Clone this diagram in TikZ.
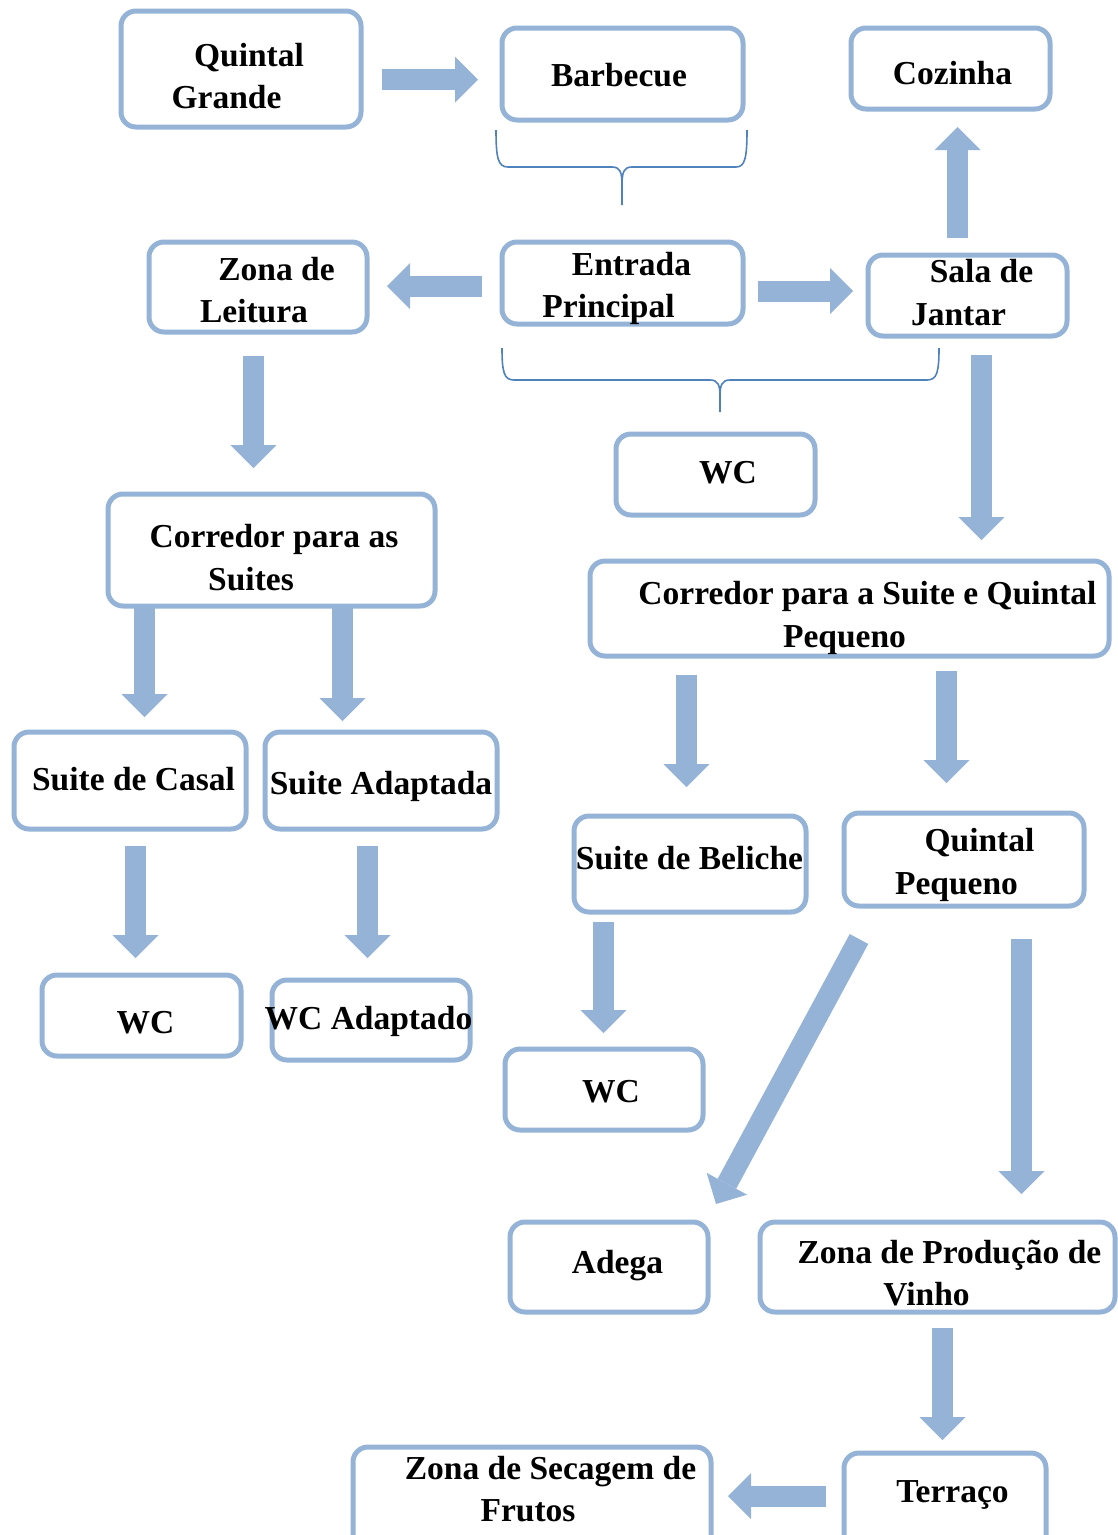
\documentclass[tikz,border=0pt]{standalone}
\usepackage{fontspec}
\setmainfont{Liberation Serif}
\usetikzlibrary{arrows.meta}
\definecolor{boxblue}{HTML}{95B3D7}
\definecolor{braceblue}{HTML}{4F81BD}
\tikzset{
  box/.style={draw=boxblue, line width=5pt, rounded corners=15pt, inner sep=0pt},
  lbl/.style={inner sep=0pt, anchor=base, font=\fontsize{33.5pt}{40pt}\selectfont\bfseries},
  barrow/.style={draw=boxblue, line width=21pt, -{Triangle[width=46pt,length=23pt,line width=0pt]}},
  bracepath/.style={draw=braceblue, line width=1.6pt}
}
\newcommand\mkbox[5]{\node[box, minimum width={#4-#2-2}, minimum height={#5-#3-2}] (#1) at ({(#2+#4)/2},{(#3+#5)/2}) {};}
\begin{document}
\begin{tikzpicture}[x=1pt,y=-1pt]
\useasboundingbox (0,0) rectangle (1118,1535);
\clip (0,0) rectangle (1118,1535);
% boxes
\mkbox{qg}{120}{10}{362}{128}
\mkbox{bb}{501}{27}{744}{121}
\mkbox{cz}{850}{27}{1051}{110}
\mkbox{zl}{148}{241}{368}{333}
\mkbox{ep}{501}{241}{744}{325}
\mkbox{sj}{867}{254}{1068}{337}
\mkbox{wc1}{615}{433}{816}{516}
\mkbox{cs}{107}{493}{436}{607}
\mkbox{cq}{589}{560}{1110}{657}
\mkbox{sc}{13}{731}{247}{830}
\mkbox{sa}{264}{731}{498}{830}
\mkbox{sb}{573}{815}{807}{913}
\mkbox{qp}{843}{812}{1085}{907}
\mkbox{wc2}{41}{974}{242}{1057}
\mkbox{wca}{271}{979}{471}{1061}
\mkbox{wc3}{504}{1048}{704}{1131}
\mkbox{ad}{509}{1221}{709}{1313}
\mkbox{zp}{759}{1221}{1116}{1313}
\mkbox{te}{843}{1452}{1047}{1560}
\mkbox{zs}{352}{1446}{712}{1560}
% texts
\node[lbl] (tqg1) at (249,66) {Quintal};
\node[lbl] (tqg2) at (226.5,108) {Grande};
\node[lbl] (tbb) at (619,86) {Barbecue};
\node[lbl] (tcz) at (952.5,84) {Cozinha};
\node[lbl] (tzl1) at (276.5,280) {Zona de};
\node[lbl] (tzl2) at (254,322) {Leitura};
\node[lbl] (tep1) at (631.5,275) {Entrada};
\node[lbl] (tep2) at (608.5,317) {Principal};
\node[lbl] (tsj1) at (981.5,282) {Sala de};
\node[lbl] (tsj2) at (958.5,325) {Jantar};
\node[lbl] (twc1) at (728,483) {WC};
\node[lbl] (tcs1) at (274,547) {Corredor para as};
\node[lbl] (tcs2) at (251,590) {Suites};
\node[lbl] (tcq1) at (867.5,604) {Corredor para a Suite e Quintal};
\node[lbl] (tcq2) at (844.5,647) {Pequeno};
\node[lbl] (tsc) at (133.5,790) {Suite de Casal};
\node[lbl] (tsa) at (381,794) {Suite Adaptada};
\node[lbl] (tsb) at (689.5,869) {Suite de Beliche};
\node[lbl] (tqp1) at (979.5,851) {Quintal};
\node[lbl] (tqp2) at (956.5,894) {Pequeno};
\node[lbl] (twc2) at (145.5,1033) {WC};
\node[lbl] (twca) at (368.5,1029) {WC Adaptado};
\node[lbl] (twc3) at (611,1102) {WC};
\node[lbl] (tad) at (617.5,1273) {Adega};
\node[lbl] (tzp1) at (949.5,1263) {Zona de Produção de};
\node[lbl] (tzp2) at (926.5,1305) {Vinho};
\node[lbl] (tte) at (952.5,1502) {Terraço};
\node[lbl] (tzs1) at (550.5,1479) {Zona de Secagem de};
\node[lbl] (tzs2) at (528,1521) {Frutos};
% arrow end points
\coordinate (a1s) at (382,79.5);   \coordinate (a1e) at (478,79.5);
\coordinate (a2s) at (482,286);    \coordinate (a2e) at (387,286);
\coordinate (a3s) at (758,291);    \coordinate (a3e) at (853,291);
\coordinate (a4s) at (957.5,238);  \coordinate (a4e) at (957.5,127);
\coordinate (a5s) at (253.5,356);  \coordinate (a5e) at (253.5,468);
\coordinate (a6s) at (981.5,355);  \coordinate (a6e) at (981.5,540);
\coordinate (a7s) at (144.5,608);  \coordinate (a7e) at (144.5,717);
\coordinate (a8s) at (342.5,608);  \coordinate (a8e) at (342.5,721);
\coordinate (a9s) at (686.5,675);  \coordinate (a9e) at (686.5,787);
\coordinate (a10s) at (946.5,671); \coordinate (a10e) at (946.5,783);
\coordinate (a11s) at (135.5,846); \coordinate (a11e) at (135.5,958);
\coordinate (a12s) at (367.5,846); \coordinate (a12e) at (367.5,958);
\coordinate (a13s) at (603.5,922); \coordinate (a13e) at (603.5,1033);
\coordinate (a14s) at (859,939);   \coordinate (a14e) at (716,1204);
\coordinate (a15s) at (1021.5,939); \coordinate (a15e) at (1021.5,1194);
\coordinate (a16s) at (942.5,1328); \coordinate (a16e) at (942.5,1440);
\coordinate (a17s) at (826,1496);  \coordinate (a17e) at (728,1496);
\foreach \i in {1,...,17} {\draw[barrow] (a\i s) -- (a\i e);}
% braces
\coordinate (b1l) at (496,130); \coordinate (b1r) at (747,130); \coordinate (b1p) at (622,205);
\draw[bracepath] (b1l) .. controls (496,158) and (498,167) .. (508,167) -- (612,167)
  .. controls (620,167) and (622,172) .. (622,185) -- (b1p);
\draw[bracepath] (b1r) .. controls (747,158) and (745,167) .. (736,167) -- (632,167)
  .. controls (624,167) and (622,172) .. (622,185);
\coordinate (b2l) at (502,348); \coordinate (b2r) at (939,348); \coordinate (b2p) at (720,412);
\draw[bracepath] (b2l) .. controls (502,372) and (504,380) .. (514,380) -- (710,380)
  .. controls (718,380) and (720,385) .. (720,396) -- (b2p);
\draw[bracepath] (b2r) .. controls (939,372) and (937,380) .. (927,380) -- (730,380)
  .. controls (722,380) and (720,385) .. (720,396);
\end{tikzpicture}
\end{document}
